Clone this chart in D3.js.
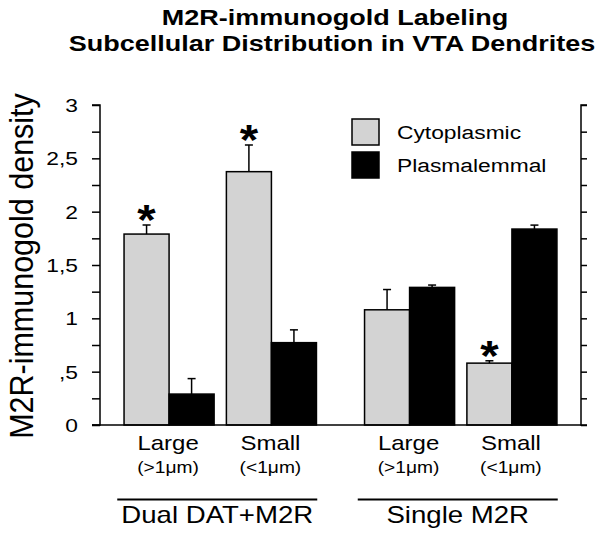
<!DOCTYPE html>
<html>
<head>
<meta charset="utf-8">
<script src="https://cdn.jsdelivr.net/npm/d3@7"></script>
<style>
  html, body { margin: 0; padding: 0; background: #fff; }
  text { font-family: "Liberation Sans", Arial, Helvetica, sans-serif; fill: #000; }
</style>
</head>
<body>
<svg id="chart" width="600" height="540"></svg>
<script>
// ---- data ----
const titleLines = ["M2R-immunogold Labeling", "Subcellular Distribution in VTA Dendrites"];
const yTitle = "M2R-immunogold density";
const groups = ["Dual DAT+M2R", "Single M2R"];
const sizes = ["Large", "Small"];
const sizeNotes = ["(>1\u03BCm)", "(<1\u03BCm)"];
const series = ["Cytoplasmic", "Plasmalemmal"];
const cytoValues = [1.79, 2.375, 1.08, 0.58];
const cytoErrors = [0.085, 0.25, 0.19, 0.022];
const plasmaValues = [0.29, 0.772, 1.29, 1.837];
const plasmaErrors = [0.145, 0.12, 0.022, 0.037];
const cytoSignificant = [true, true, false, true];
const yTicks = [0, 0.25, 0.5, 0.75, 1, 1.25, 1.5, 1.75, 2, 2.25, 2.5, 2.75, 3];
const yTickLabels = {0: "0", 0.5: ",5", 1: "1", 1.5: "1,5", 2: "2", 2.5: "2,5", 3: "3"};

(function () {
// ---- build table ----
const rows = [];
groups.forEach((g, gi) => sizes.forEach((s, si) => {
  const i = gi * 2 + si;
  rows.push({group: g, size: s, series: series[0], value: cytoValues[i], err: cytoErrors[i], sig: cytoSignificant[i]});
  rows.push({group: g, size: s, series: series[1], value: plasmaValues[i], err: plasmaErrors[i], sig: false});
}));

const SX = 1.2; // horizontal stretch of the reference typography
const colors = {Cytoplasmic: "#d3d3d3", Plasmalemmal: "#000000"};

const svg = d3.select("#chart");
const mLeft = 100, mRight = 581, mTop = 105, mBottom = 425;

const y = d3.scaleLinear().domain([0, 3]).range([mBottom, mTop]);
const xGroup = d3.scaleBand().domain(groups).range([mLeft, mRight]).paddingInner(0.2).paddingOuter(0.1);
const xSize = d3.scaleBand().domain(sizes).range([0, xGroup.bandwidth()]).paddingInner(0.12).paddingOuter(0);
const xSeries = d3.scaleBand().domain(series).range([0, xSize.bandwidth()]).padding(0);

function stext(parent, x, yy, str, size, opts = {}) {
  const sx = opts.sx || SX;
  const g = parent.append("g").attr("transform", `translate(${x},${yy}) scale(${sx},1)` + (opts.rotate ? ` rotate(${opts.rotate})` : ""));
  return g.append("text")
    .attr("text-anchor", opts.anchor || "middle")
    .attr("font-size", size)
    .attr("font-weight", opts.bold ? "bold" : "normal")
    .text(str);
}

// Title
stext(svg, 335, 25, titleLines[0], 22.5, {bold: true});
stext(svg, 332, 51, titleLines[1], 22.5, {bold: true});

// Y title
stext(svg, 33, 266, yTitle, 30.5, {rotate: -90, sx: 1.1});

// Left axis
const leftAxis = d3.axisLeft(y).tickValues(yTicks).tickSize(8).tickFormat(() => "");
const gl = svg.append("g").attr("transform", `translate(${mLeft},0)`).call(leftAxis);
gl.select(".domain").attr("stroke-width", 1.5).attr("d", `M-8,${y(3)}H0V${y(0)}H-8`);
gl.selectAll(".tick line").attr("stroke-width", 1.5);
yTicks.filter(t => yTickLabels[t] !== undefined).forEach(t => {
  stext(svg, mLeft - 22, y(t) + 7, yTickLabels[t], 19, {anchor: "end"});
});

// Right axis
const rightAxis = d3.axisRight(y).tickValues(yTicks).tickSize(6).tickFormat(() => "");
const gr = svg.append("g").attr("transform", `translate(${mRight},0)`).call(rightAxis);
gr.select(".domain").attr("stroke-width", 1.5).attr("d", `M6,${y(3)}H0V${y(0)}H6`);
gr.selectAll(".tick line").attr("stroke-width", 1.5);

// Bars
const bx = d => xGroup(d.group) + xSize(d.size) + xSeries(d.series);
const bars = svg.append("g");
bars.selectAll("rect").data(rows).join("rect")
  .attr("x", bx)
  .attr("y", d => y(d.value))
  .attr("width", xSeries.bandwidth())
  .attr("height", d => y(0) - y(d.value))
  .attr("fill", d => colors[d.series])
  .attr("stroke", "#000")
  .attr("stroke-width", 1.5);

// Error bars
const eb = svg.append("g").attr("stroke", "#000").attr("stroke-width", 1.5);
rows.forEach(d => {
  const cx = bx(d) + xSeries.bandwidth() / 2;
  eb.append("line").attr("x1", cx).attr("x2", cx).attr("y1", y(d.value)).attr("y2", y(d.value + d.err));
  eb.append("line").attr("x1", cx - 4).attr("x2", cx + 4).attr("y1", y(d.value + d.err)).attr("y2", y(d.value + d.err));
});

// Significance asterisks
rows.filter(d => d.sig).forEach(d => {
  const cx = bx(d) + xSeries.bandwidth() / 2;
  stext(svg, cx, y(d.value + d.err) + 9, "*", 43, {bold: true, sx: 1.1});
});

// Baseline
svg.append("line").attr("x1", mLeft - 8).attr("x2", mRight).attr("y1", y(0)).attr("y2", y(0))
  .attr("stroke", "#000").attr("stroke-width", 1.5);

// Category labels
groups.forEach(g => sizes.forEach((s, si) => {
  const cx = xGroup(g) + xSize(s) + xSize.bandwidth() / 2 - 1;
  stext(svg, cx, 450, s, 20);
  stext(svg, cx, 473, sizeNotes[si], 16);
}));

// Group lines & labels
groups.forEach(g => {
  const cx = xGroup(g) + xGroup.bandwidth() / 2 - 3;
  svg.append("line").attr("x1", cx - 100).attr("x2", cx + 100).attr("y1", 499.5).attr("y2", 499.5)
    .attr("stroke", "#000").attr("stroke-width", 2);
  stext(svg, cx, 523, g, 23);
});

// Legend
const lg = svg.append("g").attr("transform", "translate(352,119)");
series.forEach((s, i) => {
  lg.append("rect").attr("x", 0).attr("y", i * 33).attr("width", 27).attr("height", 26)
    .attr("fill", colors[s]).attr("stroke", "#000").attr("stroke-width", 1.5);
  stext(lg, 45, i * 33 + 19.5, s, 19, {anchor: "start"});
});
})();
</script>
</body>
</html>
